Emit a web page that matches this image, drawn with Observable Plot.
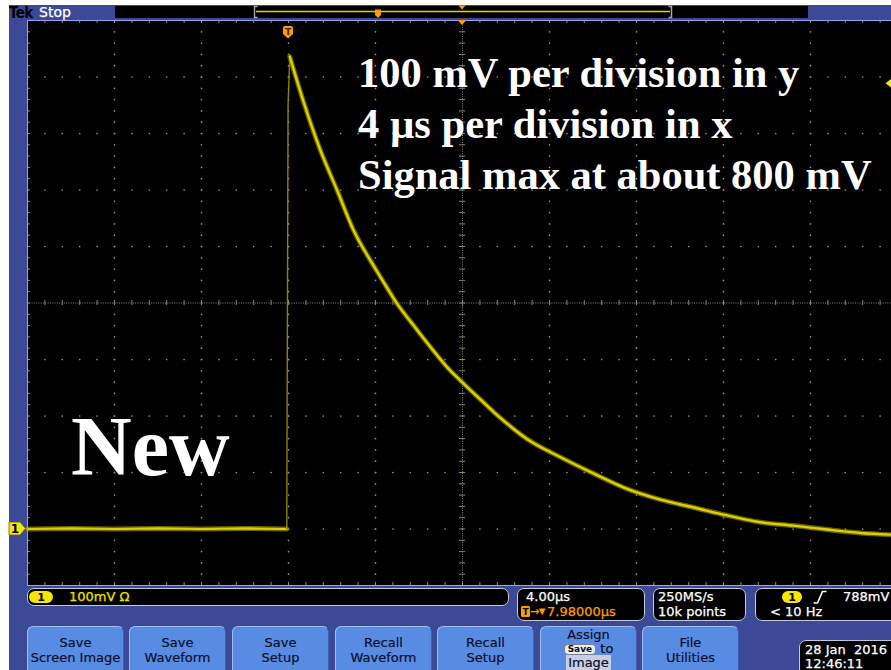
<!DOCTYPE html>
<html>
<head>
<meta charset="utf-8">
<script src="https://cdn.jsdelivr.net/npm/d3@7"></script>
<script src="https://cdn.jsdelivr.net/npm/@observablehq/plot@0.6"></script>
<style>
  html, body { margin: 0; padding: 0; background: #fff; width: 891px; height: 670px; overflow: hidden; }
  #root { position: relative; width: 891px; height: 670px; overflow: hidden; background: #fff; }
  #panel { position: absolute; left: 9px; top: 5px; width: 882px; height: 665px; background: #3b4996; }
  #plotHolder { position: absolute; left: 27px; top: 20px; width: 870px; height: 565px; }
  .ui { position: absolute; font-family: "DejaVu Sans", sans-serif; font-size: 13px; white-space: pre; -webkit-text-stroke: 0.25px currentColor; }
  .box { position: absolute; background: #000; border: 1px solid #c4c8dc; border-radius: 7px; box-sizing: border-box; }
  .btn { position: absolute; top: 626px; width: 97px; height: 52px; box-sizing: border-box;
         background: #588ce2; border-top: 1px solid #a4bef2; border-left: 1px solid #a4bef2; border-right: 1px solid #3c5fae;
         border-radius: 6px 6px 0 0; color: #0c0c2a; text-align: center;
         font-family: "DejaVu Sans", sans-serif; font-size: 13px; line-height: 15px; padding-top: 8px; -webkit-text-stroke: 0.2px #0c0c2a; }
  .note { position: absolute; font-family: "Liberation Serif", "Times New Roman", serif; font-weight: bold; color: #fff; white-space: pre; }
  #overlay { position: absolute; left: 0; top: 0; pointer-events: none; }
</style>
</head>
<body>
<div id="root">
  <div id="panel"></div>
  <div id="plotHolder"></div>
</div>
<script>
// ---------- Scope settings / tick values ----------
const timeMajor = [-12, -8, -4, 0, 4, 8, 12, 16, 20, 24, 28];        // µs, 4 µs per division
const mvMajor   = [-100, 0, 100, 200, 300, 400, 500, 600, 700, 800, 900]; // mV, 100 mV per division
const timeMinor = d3.range(-12, 28.001, 0.8);   // 5 minor ticks per division
const mvMinor   = d3.range(-100, 900.001, 20);
const centerTime = 8;     // screen centre (trigger + 7.98 µs)
const centerMv = 400;
const triggerLevelMv = 788;

// ---------- Trace values (t in µs, v in mV) ----------
const preTime = [-12, -10, -8, -6, -4, -2, -0.08];
const preMv   = [0, 1, 0, 1, 0, 1, 0];

const riseTime = [-0.08, -0.02, 0.06];
const riseMv   = [0, 750, 836];

const decayTime = [0.06, 0.70, 1.47, 2.24, 3.00, 3.77, 4.23, 4.99, 5.76, 6.53, 7.30, 8.06, 8.83, 9.44,
                   10.98, 12.51, 14.04, 15.57, 17.10, 18.64, 20.17, 21.70, 23.23, 24.77, 26.30, 27.72];
const decayMv   = [836, 755, 670, 599, 528, 475, 446, 399, 360, 322, 286, 257, 229, 207,
                   159, 127, 98, 71, 52, 38, 24, 12, 6, -1, -7, -10];

// ---------- Readout texts ----------
const ch1Scale = "100mV Ω";
const timeScale = "4.00µs";
const triggerDelay = "7.98000µs";
const sampleRate = "250MS/s";
const recordLength = "10k points";
const trigLevelText = "788mV";
const trigFreq = "< 10 Hz";
const dateText = "28 Jan  2016";
const timeText = "12:46:11";
const buttonLabels = [["Save", "Screen Image"], ["Save", "Waveform"], ["Save", "Setup"], ["Recall", "Waveform"], ["Recall", "Setup"], null, ["File", "Utilities"]];
const noteLines = ["100 mV per division in y", "4 µs per division in x", "Signal max at about 800 mV"];
const bigNote = "New";

// ---------- Tables ----------
const pre = preTime.map((t, i) => ({t, v: preMv[i]}));
const rise = riseTime.map((t, i) => ({t, v: riseMv[i]}));
const decay = decayTime.map((t, i) => ({t, v: decayMv[i]}));

const gridColor = "#938e7e";
const gridDots = [
  ...d3.cross(timeMajor.filter(t => t > -12 && t < 28 && t !== centerTime), mvMinor, (t, v) => ({t, v})),
  ...d3.cross(timeMinor, mvMajor.filter(v => v > -100 && v < 900 && v !== centerMv), (t, v) => ({t, v}))
];

const W = 870, H = 565;
const chart = Plot.plot({
  width: W, height: H,
  marginTop: 0, marginRight: 0, marginBottom: 0, marginLeft: 0,
  style: {background: "#000", maxWidth: "none", overflow: "visible"},
  x: {domain: [-12, 28], axis: null},
  y: {domain: [-100, 900], axis: null},
  marks: [
    // graticule dots
    Plot.dot(gridDots, {x: "t", y: "v", r: 0.85, fill: gridColor, stroke: null}),
    // centre cross-hair (dense dotted) with minor ticks
    Plot.ruleX([centerTime], {stroke: "#8a8472", strokeDasharray: "1,1.3"}),
    Plot.ruleY([centerMv], {stroke: "#8a8472", strokeDasharray: "1,1.3"}),
    Plot.ruleY(mvMinor, {x1: centerTime - 0.14, x2: centerTime + 0.14, stroke: "#8a8472"}),
    Plot.ruleX(timeMinor, {y1: centerMv - 4.5, y2: centerMv + 4.5, stroke: "#8a8472"}),
    // frame ticks
    Plot.ruleX(timeMinor, {stroke: gridColor, insetBottom: H - 3}),
    Plot.ruleX(timeMinor, {stroke: gridColor, insetTop: H - 3}),
    Plot.ruleY(mvMinor, {stroke: gridColor, insetRight: W - 3}),
    // trace: haze + core
    Plot.line(pre, {x: "t", y: "v", stroke: "#8f8600", strokeWidth: 5, strokeOpacity: 0.75}),
    Plot.line(pre, {x: "t", y: "v", stroke: "#ddd000", strokeWidth: 2.2}),
    Plot.line(rise, {x: "t", y: "v", stroke: "#8c8400", strokeWidth: 1.4}),
    Plot.line(decay, {x: "t", y: "v", stroke: "#8f8600", strokeWidth: 5, strokeOpacity: 0.7, curve: "monotone-x"}),
    Plot.line(decay, {x: "t", y: "v", stroke: "#ddd000", strokeWidth: 2.4, curve: "monotone-x"}),
    Plot.frame({stroke: "#8ea6e6"})
  ]
});
document.getElementById("plotHolder").append(chart);

const root = document.getElementById("root");
const sx = chart.scale("x"), sy = chart.scale("y");
const px = t => 27 + sx.apply(t);
const py = v => 20 + sy.apply(v);

function el(tag, cls, style, html) {
  const d = document.createElement(tag);
  if (cls) d.className = cls;
  Object.assign(d.style, style || {});
  if (html != null) d.innerHTML = html;
  root.append(d);
  return d;
}
function label(text, x, cy, color, extra) {
  const d = el("div", "ui", Object.assign({left: x + "px", top: (cy - 8) + "px", lineHeight: "16px", color: color || "#fff"}, extra || {}));
  d.textContent = text;
  return d;
}

// ---------- top bar ----------
el("div", null, {position: "absolute", left: "115px", top: "6px", width: "693px", height: "12px", background: "#000"});
label("Tek", 9, 12, "#000", {font: "bold 15px 'DejaVu Sans Condensed', 'DejaVu Sans', sans-serif", letterSpacing: "-0.5px", webkitTextStroke: "0"});
label("Stop", 39, 12, "#fff", {fontSize: "14px"});

// ---------- readout boxes ----------
el("div", "box", {left: "27px", top: "588px", width: "482px", height: "18px"});
el("div", "box", {left: "517px", top: "588px", width: "128px", height: "33px"});
el("div", "box", {left: "653px", top: "588px", width: "93px", height: "33px"});
el("div", "box", {left: "755px", top: "588px", width: "150px", height: "33px"});
el("div", "box", {left: "799px", top: "640px", width: "100px", height: "40px"});

label(ch1Scale, 69, 597, "#ece000");
label(timeScale, 526, 597);
label("→", 530, 612, "#ff9c00", {fontSize: "11px"});
label("▼", 539, 612, "#ff9c00", {fontSize: "8px"});
label(triggerDelay, 547, 612, "#ff9c00");
label(sampleRate, 658, 597);
label(recordLength, 658, 612);
label(trigLevelText, 843, 597);
label(trigFreq, 770, 612);
label(dateText, 805, 650);
label(timeText, 805, 664);

// ---------- buttons ----------
const btnLefts = [27, 129, 232, 335, 437, 540, 642];
btnLefts.forEach((x, i) => {
  const lab = buttonLabels[i];
  if (lab) {
    el("div", "btn", {left: x + "px"}, lab.join("<br>"));
  } else {
    el("div", "btn", {left: x + "px", paddingTop: "1px", lineHeight: "14px"},
      'Assign<br><span style="display:inline-block;background:#eceef2;border:1px solid #7a7f90;border-radius:4px;font:bold 9px \'DejaVu Sans\',sans-serif;line-height:9px;padding:0 3px;-webkit-text-stroke:0;vertical-align:1px;color:#111">Save</span> to<br><span style="background:#c8cfe2;padding:0 2px">Image</span>');
  }
});

// ---------- annotation texts ----------
noteLines.forEach((s, i) => {
  const d = el("div", "note", {left: "358px", top: (47 + i * 51) + "px", fontSize: "42.5px", lineHeight: "51px"});
  d.textContent = s;
});
const nd = el("div", "note", {left: "71px", top: "405px", fontSize: "84px", lineHeight: "84px"});
nd.textContent = bigNote;

// ---------- markers (positioned from the scales) ----------
const ov = d3.select(root).append("svg").attr("id", "overlay").attr("width", 891).attr("height", 670);
// record view
const recY = 11.5;
ov.append("line").attr("x1", 256).attr("x2", 670).attr("y1", recY).attr("y2", recY).attr("stroke", "#e2d400").attr("stroke-width", 1.3);
ov.append("path").attr("d", "M257.5,6.5H254.5V17.5H257.5").attr("fill", "none").attr("stroke", "#a8a8a8").attr("stroke-width", 1.4);
ov.append("path").attr("d", "M668.5,6.5H671.5V17.5H668.5").attr("fill", "none").attr("stroke", "#a8a8a8").attr("stroke-width", 1.4);
ov.append("path").attr("d", "M375,9.5H381V15L378,18L375,15Z").attr("fill", "#ff9c00");
ov.append("path").attr("d", `M${px(centerTime) - 3.5},5.5H${px(centerTime) + 3.5}L${px(centerTime)},9.5Z`).attr("fill", "#ff9c00");
// trigger T marker at t = 0
const tx = px(0);
ov.append("path").attr("d", `M${tx - 5},28Q${tx - 5},26 ${tx - 3},26H${tx + 3}Q${tx + 5},26 ${tx + 5},28V34L${tx},38.5L${tx - 5},34Z`).attr("fill", "#ff9c00");
ov.append("text").attr("x", tx).attr("y", 35).attr("text-anchor", "middle").attr("font-family", "DejaVu Sans").attr("font-weight", "bold").attr("font-size", 9).attr("fill", "#3a2200").text("T");
// expansion point at centre
const cx = px(centerTime);
ov.append("path").attr("d", `M${cx - 4.5},20H${cx + 4.5}L${cx},25Z`).attr("fill", "#ff9c00");
// ground marker for channel 1
const gy = py(0);
ov.append("path").attr("d", `M9,${gy - 6.5}H20L25.5,${gy}L20,${gy + 6.5}H9Z`).attr("fill", "#f2e41c").attr("stroke", "#6b6400").attr("stroke-width", 0.8);
ov.append("text").attr("x", 15).attr("y", gy + 4.5).attr("text-anchor", "middle").attr("font-family", "DejaVu Sans").attr("font-weight", "bold").attr("font-size", 12).attr("fill", "#000").text("1");
// trigger level marker on the right edge
const ty = py(triggerLevelMv);
ov.append("path").attr("d", `M892,${ty - 5}L885.5,${ty}L892,${ty + 5}Z`).attr("fill", "#f2e41c");
// channel pills
function pill(x, y, w, h) {
  ov.append("rect").attr("x", x).attr("y", y).attr("width", w).attr("height", h).attr("rx", h / 2).attr("fill", "#f5e600");
  ov.append("text").attr("x", x + w / 2).attr("y", y + h / 2 + 4).attr("text-anchor", "middle").attr("font-family", "DejaVu Sans").attr("font-weight", "bold").attr("font-size", 11).attr("fill", "#000").text("1");
}
pill(29, 591, 24, 12);
pill(782, 591, 20, 12);
// rising edge symbol
ov.append("path").attr("d", "M813.5,603H817.5L822.5,591.5H826.5").attr("fill", "none").attr("stroke", "#fff").attr("stroke-width", 1.6);
// small "T" box in delay readout
ov.append("rect").attr("x", 521).attr("y", 606).attr("width", 9).attr("height", 11).attr("rx", 1.5).attr("fill", "#ff9c00");
ov.append("text").attr("x", 525.5).attr("y", 615).attr("text-anchor", "middle").attr("font-family", "DejaVu Sans").attr("font-weight", "bold").attr("font-size", 9).attr("fill", "#000").text("T");
</script>
</body>
</html>
